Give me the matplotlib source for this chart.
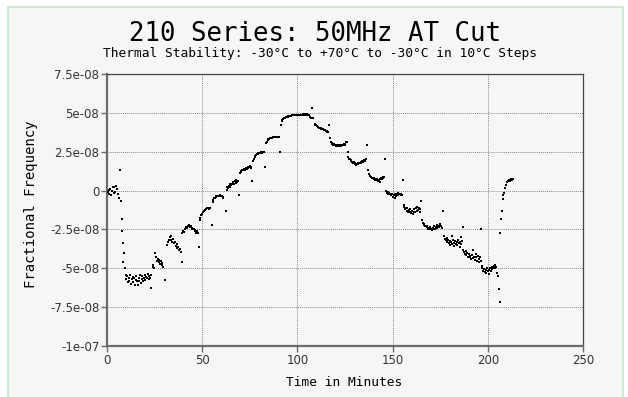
import matplotlib
matplotlib.use('Agg')
import matplotlib.pyplot as plt
from matplotlib.patches import Rectangle
import numpy as np

# time in minutes / fractional frequency (units of 1e-8)
t_min = [
    # -30C start
    0.3, 0.8, 1.2, 1.7, 2.1, 2.6, 3.0, 3.5, 3.9, 4.4, 4.8, 5.3, 5.7, 6.2, 6.8,
    7.4, 7.8, 8.0, 8.3, 8.6, 8.9, 9.3,
    9.8, 10.2, 10.6, 11.0, 11.4, 11.8, 12.2, 12.6, 13.0, 13.4, 13.8, 14.2, 14.6, 15.0,
    15.4, 15.8, 16.2, 16.6, 17.0, 17.4, 17.8, 18.2, 18.6, 19.0, 19.4, 19.8, 20.2, 20.6,
    21.0, 21.4, 21.8, 22.2, 22.6, 23.0, 23.2,
    # -20C
    24.0, 24.4, 24.8, 25.2, 25.8, 26.3, 26.7, 27.1, 27.5, 27.9, 28.3, 28.7, 29.1, 29.5, 30.5,
    # -10C
    31.3, 31.8, 32.4, 32.9, 33.4, 33.8, 34.3, 34.8, 35.2, 35.7, 36.1, 36.6, 37.0, 37.5,
    37.9, 38.4, 38.8, 39.4,
    # 0C
    39.6, 40.0, 40.4, 40.8, 41.2, 41.6, 42.0, 42.4, 42.8, 43.2, 43.6, 44.0, 44.4, 44.8,
    45.2, 45.6, 46.0, 46.4, 46.8, 47.2, 47.6, 48.1,
    # 10C
    48.6, 49.0, 49.4, 49.8, 50.2, 50.6, 51.0, 51.4, 51.8, 52.2, 52.6, 53.0, 53.4, 53.8,
    54.2, 55.0,
    # 20C
    55.5, 55.9, 56.3, 56.7, 57.1, 57.5, 57.9, 58.3, 58.7, 59.1, 59.5, 59.9, 60.3, 60.7,
    61.1, 62.5,
    # 30C
    62.8, 63.2, 63.6, 64.0, 64.4, 64.8, 65.2, 65.6, 66.0, 66.4, 66.8, 67.2, 67.6, 68.0,
    68.4, 68.8, 69.5,
    # 40C
    69.8, 70.2, 70.6, 71.0, 71.4, 71.8, 72.2, 72.6, 73.0, 73.4, 73.8, 74.2, 74.6, 75.0,
    75.4, 75.8, 76.3,
    # 50C
    76.7, 77.1, 77.5, 77.9, 78.3, 78.7, 79.1, 79.5, 79.9, 80.3, 80.7, 81.1, 81.5, 81.9,
    82.3, 83.0,
    # 60C
    83.5, 83.9, 84.3, 84.7, 85.1, 85.5, 85.9, 86.3, 86.7, 87.1, 87.5, 87.9, 88.3, 88.7,
    89.1, 89.5, 89.9, 90.3, 91.0,
    # 70C
    91.3, 91.7, 92.1, 92.5, 92.9, 93.3, 93.7, 94.1, 94.5, 94.9, 95.3, 95.7, 96.1, 96.5,
    96.9, 97.3, 97.7, 98.1, 98.5, 98.9, 99.3, 99.7, 100.1, 100.5, 100.9, 101.3, 101.7,
    102.1, 102.5, 102.9, 103.3, 103.7, 104.1, 104.5, 104.9, 105.3, 105.7, 106.1, 106.5,
    106.9, 107.5, 108.0,
    # 60C down
    109.0, 109.4, 109.8, 110.2, 110.6, 111.0, 111.4, 111.8, 112.2, 112.6, 113.0, 113.4,
    113.8, 114.2, 114.6, 115.0, 115.4, 115.8, 116.2, 116.6, 117.0,
    # 50C
    117.6, 118.0, 118.4, 118.8, 119.2, 119.6, 120.0, 120.4, 120.8, 121.2, 121.6, 122.0,
    122.4, 122.8, 123.2, 123.6, 124.0, 124.4, 124.8, 125.2, 125.6, 126.0, 126.4, 136.4,
    # 40C
    126.8, 127.2, 127.6, 128.0, 128.4, 128.8, 129.2, 129.6, 130.0, 130.4, 130.8, 131.2,
    131.6, 132.0, 132.4, 132.8, 133.2, 133.6, 134.0, 134.4, 134.8, 135.2, 135.6, 136.0,
    137.0, 146.0,
    # 30C
    137.6, 138.0, 138.4, 138.8, 139.2, 139.6, 140.0, 140.4, 140.8, 141.2, 141.6, 142.0,
    142.4, 142.8, 143.2, 143.6, 144.0, 144.4, 144.8, 145.2, 145.6, 155.3,
    # 20C
    146.6, 147.0, 147.4, 147.8, 148.2, 148.6, 149.0, 149.4, 149.8, 150.2, 150.6, 151.0,
    151.4, 151.8, 152.2, 152.6, 153.0, 153.4, 153.8, 154.2, 154.6, 155.0,
    # 10C
    155.8, 156.2, 156.6, 157.0, 157.4, 157.8, 158.2, 158.6, 159.0, 159.4, 159.8, 160.2,
    160.6, 161.0, 161.4, 161.8, 162.2, 162.6, 163.0, 163.4, 163.8, 164.2, 164.6, 164.7,
    165.3, 176.6,
    # 0C
    165.9, 166.3, 166.7, 167.1, 167.5, 167.9, 168.3, 168.7, 169.1, 169.5, 169.9, 170.3,
    170.7, 171.1, 171.5, 171.9, 172.3, 172.7, 173.1, 173.5, 173.9, 174.3, 174.7, 175.1,
    175.5, 175.9, 187.0, 196.4, 181.4, 185.7,
    # -10C
    177.2, 177.6, 178.0, 178.4, 178.8, 179.2, 179.6, 180.0, 180.4, 180.8, 181.2, 181.6,
    182.0, 182.4, 182.8, 183.2, 183.6, 184.0, 184.4, 184.8, 185.2, 185.6, 186.0, 186.4,
    # -20C
    187.2, 187.6, 188.0, 188.4, 188.8, 189.2, 189.6, 190.0, 190.4, 190.8, 191.2, 191.6,
    192.0, 192.4, 192.8, 193.2, 193.6, 194.0, 194.4, 194.8, 195.2, 195.6, 196.0, 196.4,
    # -30C
    196.8, 197.2, 197.6, 198.0, 198.4, 198.8, 199.2, 199.6, 200.0, 200.4, 200.8, 201.2,
    201.6, 202.0, 202.4, 202.8, 203.2, 203.6, 204.0, 204.4, 204.8, 205.1, 206.0, 206.5,
    # back to room temp
    206.5, 206.9, 207.2, 207.8, 208.2, 208.5, 208.9, 209.5, 210.2, 210.6, 211.0, 211.4,
    211.8, 212.2, 212.6, 213.0,
]

frac_freq = [
    -0.1, 0.05, -0.2, 0.1, -0.3, 0.0, 0.2, -0.15, 0.25, -0.1, 0.3, 0.1, -0.2, -0.45, 1.3,
    -0.65, -1.8, -2.6, -3.4, -4.6, -4.0, -5.0,
    -5.4, -5.7, -5.5, -5.9, -5.6, -5.8, -5.45, -6.0, -5.7, -5.55, -5.9, -5.65, -6.05, -5.75,
    -5.5, -5.85, -6.1, -5.6, -5.8, -5.45, -5.95, -5.7, -5.5, -5.85, -5.6, -5.4, -5.75, -5.55,
    -5.65, -5.35, -5.7, -5.5, -5.6, -5.45, -6.25,
    -4.9, -4.8, -4.95, -4.0, -4.3, -4.5, -4.4, -4.6, -4.45, -4.7, -4.55, -4.8, -4.65, -4.9, -5.75,
    -3.5, -3.3, -3.15, -3.0, -2.9, -3.2, -3.3, -3.1, -3.4, -3.3, -3.55, -3.45, -3.7, -3.6,
    -3.85, -3.75, -3.95, -4.6,
    -2.75, -2.6, -2.65, -2.45, -2.5, -2.35, -2.4, -2.25, -2.3, -2.2, -2.35, -2.3, -2.45, -2.4,
    -2.5, -2.45, -2.6, -2.55, -2.7, -2.6, -2.75, -3.6,
    -1.9, -1.75, -1.6, -1.5, -1.4, -1.35, -1.3, -1.25, -1.2, -1.2, -1.15, -1.15, -1.1, -1.2,
    -1.15, -2.2,
    -0.75, -0.6, -0.5, -0.45, -0.4, -0.35, -0.38, -0.33, -0.35, -0.3, -0.36, -0.32, -0.38, -0.4,
    -0.45, -1.33,
    0.05, 0.2, 0.15, 0.3, 0.25, 0.4, 0.35, 0.45, 0.4, 0.55, 0.45, 0.6, 0.5, 0.65,
    0.55, 0.6, -0.3,
    1.1, 1.25, 1.2, 1.3, 1.35, 1.3, 1.4, 1.35, 1.45, 1.4, 1.5, 1.45, 1.5, 1.55,
    1.45, 1.5, 0.6,
    1.9, 2.05, 2.15, 2.25, 2.3, 2.35, 2.38, 2.4, 2.42, 2.4, 2.44, 2.45, 2.43, 2.46,
    2.45, 1.5,
    3.05, 3.15, 3.25, 3.3, 3.33, 3.36, 3.38, 3.4, 3.4, 3.42, 3.43, 3.42, 3.44, 3.44,
    3.45, 3.45, 3.44, 3.45, 2.48,
    4.25, 4.45, 4.55, 4.6, 4.65, 4.68, 4.7, 4.72, 4.74, 4.76, 4.78, 4.79, 4.8, 4.81,
    4.82, 4.83, 4.84, 4.85, 4.85, 4.86, 4.86, 4.87, 4.87, 4.88, 4.88, 4.88, 4.89,
    4.89, 4.89, 4.9, 4.89, 4.9, 4.9, 4.89, 4.9, 4.9, 4.88, 4.85, 4.75,
    4.7, 5.3, 4.7,
    4.3, 4.2, 4.22, 4.15, 4.1, 4.12, 4.05, 4.02, 4.0, 3.98, 3.95, 3.93,
    3.9, 3.92, 3.87, 3.85, 3.83, 3.8, 3.78, 4.2, 3.4,
    3.15, 3.05, 3.0, 2.95, 2.97, 2.9, 2.93, 2.88, 2.92, 2.85, 2.9, 2.87,
    2.92, 2.88, 2.9, 2.95, 2.9, 2.97, 2.93, 3.0, 3.1, 3.15, 2.5, 2.93,
    2.15, 2.05, 2.0, 1.95, 1.9, 1.85, 1.8, 1.82, 1.75, 1.7, 1.65, 1.72,
    1.78, 1.7, 1.8, 1.75, 1.85, 1.8, 1.88, 1.82, 1.9, 1.95, 1.88, 2.0,
    1.3, 2.06,
    1.05, 0.95, 0.9, 0.85, 0.8, 0.82, 0.75, 0.78, 0.7, 0.75, 0.65, 0.72,
    0.6, 0.7, 0.55, 0.75, 0.8, 0.72, 0.85, 0.8, 0.88, 0.65,
    -0.05, -0.15, -0.1, -0.2, -0.15, -0.25, -0.2, -0.3, -0.25, -0.4, -0.3, -0.45,
    -0.25, -0.35, -0.2, -0.3, -0.15, -0.25, -0.2, -0.3, -0.22, -0.28,
    -0.9, -1.05, -1.2, -1.1, -1.3, -1.15, -1.4, -1.25, -1.35, -1.2, -1.45, -1.3,
    -1.5, -1.35, -1.2, -1.4, -1.1, -1.3, -1.05, -1.25, -1.15, -1.35, -1.2, -0.7,
    -1.9, -1.33,
    -2.1, -2.2, -2.15, -2.3, -2.25, -2.35, -2.3, -2.45, -2.4, -2.5, -2.35, -2.45,
    -2.55, -2.4, -2.5, -2.3, -2.45, -2.35, -2.2, -2.4, -2.25, -2.35, -2.15, -2.3,
    -2.25, -2.4, -2.35, -2.5, -2.9, -2.97,
    -2.95, -3.1, -3.2, -3.05, -3.3, -3.15, -3.4, -3.25, -3.5, -3.3, -3.45, -3.2,
    -3.55, -3.35, -3.25, -3.45, -3.3, -3.5, -3.15, -3.4, -3.3, -3.6, -3.45, -3.25,
    -3.8, -3.95, -4.05, -3.9, -4.15, -4.0, -4.25, -4.1, -4.3, -4.2, -4.4, -4.15,
    -4.35, -3.85, -4.25, -4.45, -4.05, -4.3, -4.5, -4.2, -4.4, -4.6, -4.3, -4.5,
    -4.85, -5.0, -5.15, -5.05, -5.25, -5.1, -5.3, -5.0, -5.2, -5.35, -5.1, -4.95,
    -5.15, -5.05, -4.9, -5.0, -4.85, -4.95, -4.8, -4.9, -5.3, -5.5, -6.35, -7.2,
    -2.73, -1.8, -1.34, -0.54, -0.3, -0.15, 0.17, 0.39, 0.53, 0.6, 0.65, 0.7,
    0.62, 0.72, 0.68, 0.75,
]

x_ticks = [0, 50, 100, 150, 200, 250]
y_ticks = [-1e-07, -7.5e-08, -5e-08, -2.5e-08, 0, 2.5e-08, 5e-08, 7.5e-08]
y_tick_labels = ['-1e-07', '-7.5e-08', '-5e-08', '-2.5e-08', '0', '2.5e-08', '5e-08', '7.5e-08']

bg = '#f5f7f5'
mono = 'DejaVu Sans Mono'

fig = plt.figure(figsize=(6.28, 3.97), dpi=100)
fig.patch.set_facecolor('white')
fig.add_artist(Rectangle((8 / 628, -0.01), 615 / 628, 390 / 397 + 0.01,
                         transform=fig.transFigure, facecolor=bg,
                         edgecolor='#c3e6cc', linewidth=1.2, zorder=-10))

ax = fig.add_axes([107 / 628, 51 / 397, 476 / 628, 272 / 397])
ax.set_facecolor(bg)

x = np.array(t_min)
y = np.array(frac_freq) * 1e-8
ax.scatter(x, y, marker='s', s=1.7, color='black', linewidths=0, zorder=3)

ax.set_xlim(0, 250)
ax.set_ylim(-1e-07, 7.5e-08)
ax.set_xticks(x_ticks)
ax.set_yticks(y_ticks)
ax.set_yticklabels(y_tick_labels)
ax.tick_params(labelsize=8.5, labelcolor='#333333', color='#6b6b6b',
               length=4, width=1, direction='out', pad=1.5)
for lbl in ax.get_xticklabels() + ax.get_yticklabels():
    lbl.set_family('DejaVu Sans')

ax.grid(True, linestyle=(0, (1, 1)), color='#8a8a8a', linewidth=0.7)
ax.set_axisbelow(True)

for side in ['left', 'bottom']:
    ax.spines[side].set_linewidth(1.6)
    ax.spines[side].set_color('#6b6b6b')
for side in ['top', 'right']:
    ax.spines[side].set_linewidth(0.9)
    ax.spines[side].set_color('#444444')

ax.set_xlabel('Time in Minutes', family=mono, fontsize=9.3)
ax.xaxis.set_label_coords(0.499, -0.11)
ax.set_ylabel('Fractional Frequency', family=mono, fontsize=10)
ax.yaxis.set_label_coords(-0.145, 0.52)

fig.text(315 / 628, 1 - 34 / 397, '210 Series: 50MHz AT Cut', family=mono,
         fontsize=18.5, ha='center', va='center')
fig.text(320 / 628, 1 - 53 / 397,
         'Thermal Stability: -30°C to +70°C to -30°C in 10°C Steps',
         family=mono, fontsize=9.3, ha='center', va='center')

fig.savefig('out.png', dpi=100, facecolor=fig.get_facecolor())
